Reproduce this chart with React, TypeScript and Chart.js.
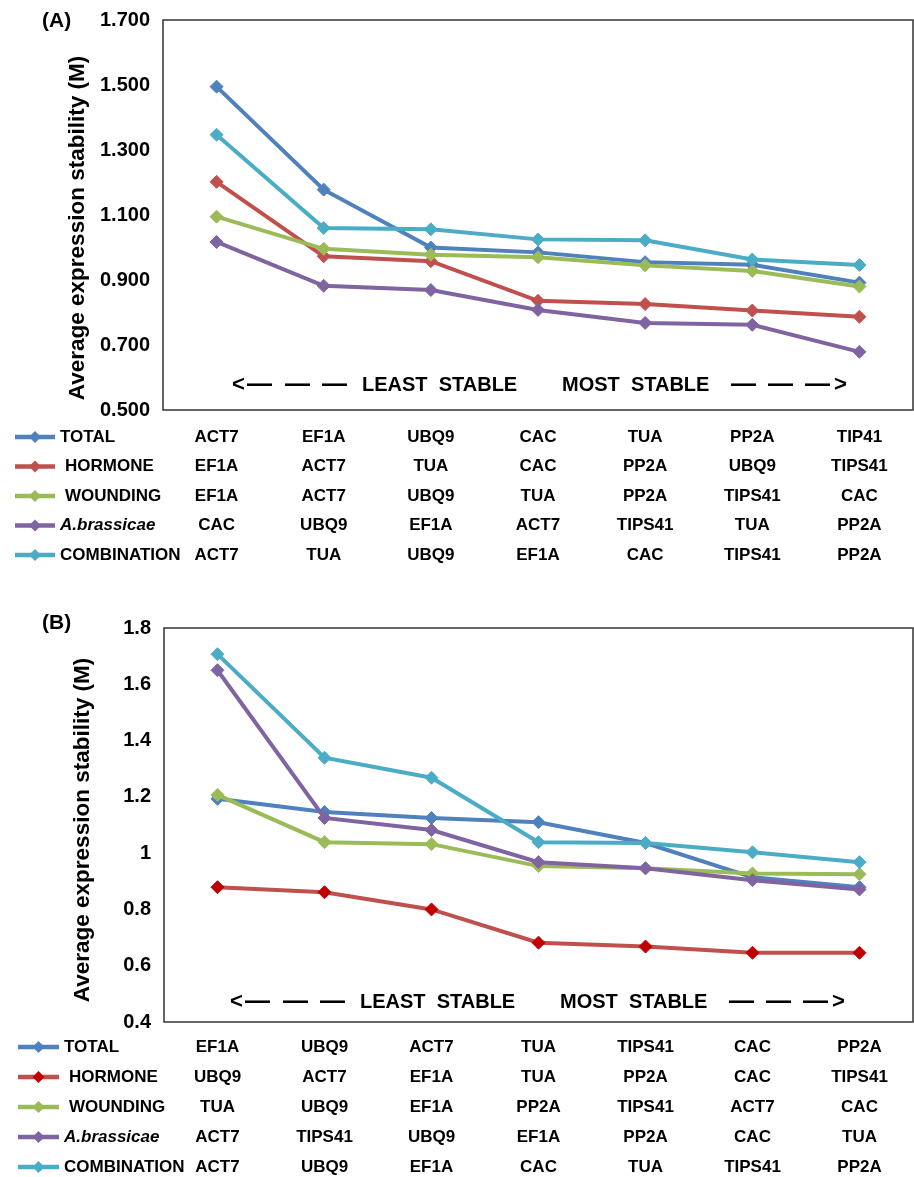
import React, { useEffect, useRef } from 'react';
import { Chart, registerables } from 'chart.js';

Chart.register(...registerables);

const FONT = '"Liberation Sans", Arial, Helvetica, sans-serif';

// ---------- shared ----------
const ranks = ['1', '2', '3', '4', '5', '6', '7'];
const seriesNames = ['TOTAL', 'HORMONE', 'WOUNDING', 'A.brassicae', 'COMBINATION'];
const seriesColors = ['#4F81BD', '#C0504D', '#9BBB59', '#8064A2', '#4BACC6'];
const yTitle = 'Average expression stability (M)';
const leastLabel = 'LEAST  STABLE';
const mostLabel = 'MOST  STABLE';

// ---------- panel A ----------
const totalA = [1.495, 1.178, 1.0, 0.985, 0.955, 0.947, 0.892];
const hormoneA = [1.202, 0.973, 0.958, 0.836, 0.826, 0.806, 0.787];
const woundingA = [1.095, 0.996, 0.978, 0.970, 0.945, 0.928, 0.880];
const brassicaeA = [1.017, 0.882, 0.869, 0.808, 0.768, 0.762, 0.679];
const combinationA = [1.347, 1.060, 1.056, 1.025, 1.022, 0.963, 0.946];

const genesTotalA = ['ACT7', 'EF1A', 'UBQ9', 'CAC', 'TUA', 'PP2A', 'TIP41'];
const genesHormoneA = ['EF1A', 'ACT7', 'TUA', 'CAC', 'PP2A', 'UBQ9', 'TIPS41'];
const genesWoundingA = ['EF1A', 'ACT7', 'UBQ9', 'TUA', 'PP2A', 'TIPS41', 'CAC'];
const genesBrassicaeA = ['CAC', 'UBQ9', 'EF1A', 'ACT7', 'TIPS41', 'TUA', 'PP2A'];
const genesCombinationA = ['ACT7', 'TUA', 'UBQ9', 'EF1A', 'CAC', 'TIPS41', 'PP2A'];

const yMinA = 0.5;
const yMaxA = 1.7;
const yStepA = 0.2;

// ---------- panel B ----------
const totalB = [1.193, 1.146, 1.125, 1.110, 1.036, 0.914, 0.879];
const hormoneB = [0.879, 0.861, 0.800, 0.682, 0.668, 0.646, 0.646];
const woundingB = [1.207, 1.039, 1.032, 0.954, 0.946, 0.928, 0.925];
const brassicaeB = [1.650, 1.125, 1.082, 0.968, 0.946, 0.904, 0.871];
const combinationB = [1.707, 1.339, 1.268, 1.039, 1.036, 1.003, 0.968];

const genesTotalB = ['EF1A', 'UBQ9', 'ACT7', 'TUA', 'TIPS41', 'CAC', 'PP2A'];
const genesHormoneB = ['UBQ9', 'ACT7', 'EF1A', 'TUA', 'PP2A', 'CAC', 'TIPS41'];
const genesWoundingB = ['TUA', 'UBQ9', 'EF1A', 'PP2A', 'TIPS41', 'ACT7', 'CAC'];
const genesBrassicaeB = ['ACT7', 'TIPS41', 'UBQ9', 'EF1A', 'PP2A', 'CAC', 'TUA'];
const genesCombinationB = ['ACT7', 'UBQ9', 'EF1A', 'CAC', 'TUA', 'TIPS41', 'PP2A'];

const yMinB = 0.4;
const yMaxB = 1.8;
const yStepB = 0.2;

type PanelCfg = {
  tag: string;
  tagY: number;
  values: number[][];
  genes: string[][];
  pointColors: string[];
  yMin: number;
  yMax: number;
  yStep: number;
  fmt: (v: number) => string;
  width: number;
  height: number;
  padTop: number;
  padBottom: number;
  axisWidth: number;
  titleX: number;
  titleY: number;
  rowFirst: number;
  rowStep: number;
  legendLine: [number, number];
  legendTextX: number[];
  arrowY: number;
  arrowShift: number;
};

function makeDecor(cfg: PanelCfg) {
  return {
    id: 'decor',
    afterDraw(chart: any) {
      const { ctx, chartArea: ca, scales } = chart;
      const xs = scales.x;
      ctx.save();
      // frame
      ctx.strokeStyle = '#333333';
      ctx.lineWidth = 1.5;
      ctx.strokeRect(ca.left, ca.top, ca.right - ca.left, ca.bottom - ca.top);

      // panel tag
      ctx.fillStyle = '#000';
      ctx.textBaseline = 'middle';
      ctx.textAlign = 'left';
      ctx.font = `bold 21px ${FONT}`;
      ctx.fillText(cfg.tag, 42, cfg.tagY);

      // y-axis title
      ctx.save();
      ctx.translate(cfg.titleX, cfg.titleY);
      ctx.rotate(-Math.PI / 2);
      ctx.textAlign = 'center';
      ctx.font = `bold 22.5px ${FONT}`;
      ctx.fillText(yTitle, 0, 0);
      ctx.restore();

      // arrow annotations
      const ay = cfg.arrowY;
      const s = cfg.arrowShift;
      ctx.textAlign = 'left';
      ctx.font = `bold 22px ${FONT}`;
      ctx.fillText('<', 232 + s, ay);
      ctx.font = `bold 25px ${FONT}`;
      ctx.fillText('\u2014', 247 + s, ay);
      ctx.fillText('\u2014', 285 + s, ay);
      ctx.fillText('\u2014', 322 + s, ay);
      ctx.font = `bold 20px ${FONT}`;
      ctx.fillText(leastLabel, 362 + s, ay);
      ctx.fillText(mostLabel, 562 + s, ay);
      ctx.font = `bold 25px ${FONT}`;
      ctx.fillText('\u2014', 731 + s, ay);
      ctx.fillText('\u2014', 768 + s, ay);
      ctx.fillText('\u2014', 805 + s, ay);
      ctx.font = `bold 22px ${FONT}`;
      ctx.fillText('>', 834 + s, ay);

      // table with legend keys
      for (let r = 0; r < cfg.genes.length; r++) {
        const y = ca.bottom + cfg.rowFirst + r * cfg.rowStep;
        const [l0, l1] = cfg.legendLine;
        ctx.strokeStyle = seriesColors[r];
        ctx.lineWidth = 4.5;
        ctx.beginPath();
        ctx.moveTo(l0, y);
        ctx.lineTo(l1, y);
        ctx.stroke();
        const cx = (l0 + l1) / 2;
        ctx.fillStyle = cfg.pointColors[r];
        ctx.beginPath();
        ctx.moveTo(cx, y - 6);
        ctx.lineTo(cx + 6, y);
        ctx.lineTo(cx, y + 6);
        ctx.lineTo(cx - 6, y);
        ctx.closePath();
        ctx.fill();

        ctx.fillStyle = '#000';
        ctx.textAlign = 'left';
        ctx.font = (r === 3 ? 'italic ' : '') + `bold 17px ${FONT}`;
        ctx.fillText(seriesNames[r], cfg.legendTextX[r], y);

        ctx.font = `bold 17px ${FONT}`;
        ctx.textAlign = 'center';
        cfg.genes[r].forEach((g, i) => {
          ctx.fillText(g, xs.getPixelForValue(i), y);
        });
      }
      ctx.restore();
    },
  };
}

function Panel({ cfg, top }: { cfg: PanelCfg; top: number }) {
  const ref = useRef<HTMLCanvasElement | null>(null);
  useEffect(() => {
    if (!ref.current) return;
    const chart = new Chart(ref.current, {
      type: 'line',
      data: {
        labels: ranks,
        datasets: cfg.values.map((vals, i) => ({
          label: seriesNames[i],
          data: vals,
          borderColor: seriesColors[i],
          backgroundColor: cfg.pointColors[i],
          borderWidth: 4,
          pointStyle: 'rectRot',
          pointRadius: 6.5,
          pointBackgroundColor: cfg.pointColors[i],
          pointBorderColor: cfg.pointColors[i],
          pointBorderWidth: 1,
          tension: 0,
          order: seriesNames.length - 1 - i,
        })),
      },
      options: {
        responsive: false,
        animation: false,
        events: [],
        layout: {
          autoPadding: false,
          padding: { top: cfg.padTop, bottom: cfg.padBottom, left: 0, right: 1 },
        },
        plugins: {
          legend: { display: false },
          tooltip: { enabled: false },
        },
        scales: {
          x: {
            type: 'category',
            display: false,
            offset: true,
            ticks: { display: false },
          },
          y: {
            min: cfg.yMin,
            max: cfg.yMax,
            grid: { display: false, drawTicks: false },
            border: { display: false },
            ticks: {
              stepSize: cfg.yStep,
              padding: 13,
              color: '#000',
              font: { family: FONT, size: 20, weight: 'bold' },
              callback: (v: any) => cfg.fmt(Number(v)),
            },
            title: { display: false },
            afterFit: (s: any) => {
              s.width = cfg.axisWidth;
              s.paddingTop = 0;
              s.paddingBottom = 0;
            },
          },
        },
      },
      plugins: [makeDecor(cfg)],
    } as any);
    return () => chart.destroy();
  }, [cfg]);
  return (
    <canvas
      ref={ref}
      width={cfg.width}
      height={cfg.height}
      style={{ position: 'absolute', left: 0, top, width: cfg.width, height: cfg.height }}
    />
  );
}

const cfgA: PanelCfg = {
  tag: '(A)',
  tagY: 21,
  values: [totalA, hormoneA, woundingA, brassicaeA, combinationA],
  genes: [genesTotalA, genesHormoneA, genesWoundingA, genesBrassicaeA, genesCombinationA],
  pointColors: seriesColors,
  yMin: yMinA,
  yMax: yMaxA,
  yStep: yStepA,
  fmt: (v) => v.toFixed(3),
  width: 914,
  height: 590,
  padTop: 20,
  padBottom: 180,
  axisWidth: 163,
  titleX: 78,
  titleY: 228,
  rowFirst: 27,
  rowStep: 29.5,
  legendLine: [15, 55],
  legendTextX: [60, 65, 65, 60, 60],
  arrowY: 385,
  arrowShift: 0,
};

const cfgB: PanelCfg = {
  tag: '(B)',
  tagY: 33,
  values: [totalB, hormoneB, woundingB, brassicaeB, combinationB],
  genes: [genesTotalB, genesHormoneB, genesWoundingB, genesBrassicaeB, genesCombinationB],
  pointColors: ['#4F81BD', '#C00000', '#9BBB59', '#8064A2', '#4BACC6'],
  yMin: yMinB,
  yMax: yMaxB,
  yStep: yStepB,
  fmt: (v) => String(Math.round(v * 10) / 10),
  width: 914,
  height: 587,
  padTop: 38,
  padBottom: 155,
  axisWidth: 164,
  titleX: 83,
  titleY: 240,
  rowFirst: 25,
  rowStep: 30,
  legendLine: [18, 59],
  legendTextX: [64, 69, 69, 64, 64],
  arrowY: 412,
  arrowShift: -2,
};

export default function App() {
  return (
    <div
      style={{
        position: 'absolute',
        left: 0,
        top: 0,
        width: 914,
        height: 1177,
        background: '#fff',
        overflow: 'hidden',
      }}
    >
      <Panel cfg={cfgA} top={0} />
      <Panel cfg={cfgB} top={590} />
    </div>
  );
}
